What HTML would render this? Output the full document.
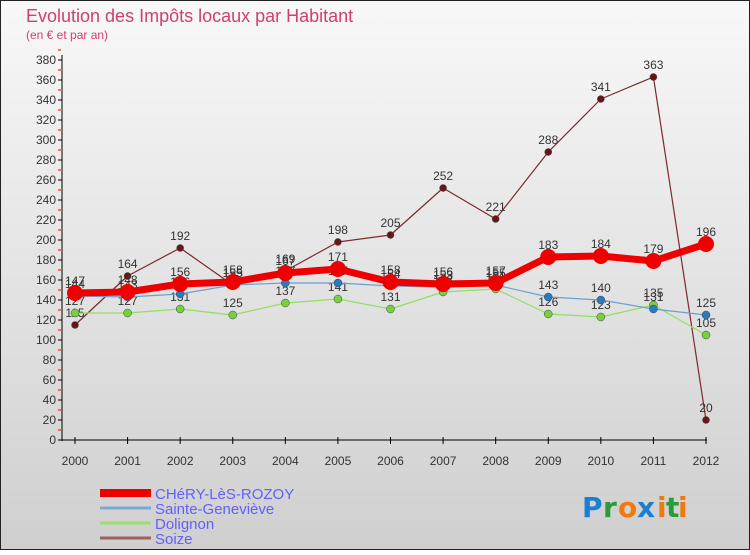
<!DOCTYPE html>
<html><head><meta charset="utf-8"><style>
body{margin:0;width:750px;height:550px;overflow:hidden;font-family:"Liberation Sans",sans-serif}
</style></head><body>
<svg width="750" height="550" xmlns="http://www.w3.org/2000/svg">
<defs><linearGradient id="bg" x1="0" y1="0" x2="0" y2="1"><stop offset="0" stop-color="#f8f8f8"/><stop offset="1" stop-color="#cfcfcf"/></linearGradient></defs>
<rect x="0.5" y="0.5" width="749" height="549" fill="url(#bg)" stroke="#222"/>
<text x="26" y="22" font-size="18" fill="#d0406a">Evolution des Impôts locaux par Habitant</text>
<text x="26" y="39" font-size="12" fill="#d0406a">(en € et par an)</text>
<g id="axes"></g>
<g id="series"></g>
<g id="legend"></g>
<g font-size="28" font-family="'DejaVu Sans',sans-serif" font-weight="bold">
<text x="582" y="517" fill="#1a7fd0">P</text><text x="603" y="517" fill="#2a9a3a">r</text><text x="618" y="517" fill="#f07a10">o</text><text x="637" y="517" fill="#1a7fd0">x</text><text x="657" y="517" fill="#f07a10">i</text><text x="666" y="517" fill="#2a9a3a">t</text><text x="678" y="517" fill="#f07a10">i</text>
</g>
</svg>
<script>
const years=[2000,2001,2002,2003,2004,2005,2006,2007,2008,2009,2010,2011,2012];
const chery=[147,148,156,158,167,171,158,156,157,183,184,179,196];
const sainte=[144,143,146,155,157,157,154,153,155,143,140,131,125];
const dolignon=[127,127,131,125,137,141,131,148,151,126,123,135,105];
const soize=[115,164,192,155,169,198,205,252,221,288,341,363,20];
const yTicks=[0,20,40,60,80,100,120,140,160,180,200,220,240,260,280,300,320,340,360,380];
const names=["CHéRY-LèS-ROZOY","Sainte-Geneviève","Dolignon","Soize"];
const NS="http://www.w3.org/2000/svg";
const x=i=>75+i*(706-75)/(years.length-1);
const y=v=>440-v*(380/380);
function mk(t,a,p){const e=document.createElementNS(NS,t);for(const k in a)e.setAttribute(k,a[k]);p.appendChild(e);return e;}
const ax=document.getElementById('axes');
mk('line',{x1:62,y1:55,x2:62,y2:441,stroke:'#000'},ax);
mk('line',{x1:62,y1:440,x2:707,y2:440,stroke:'#000'},ax);
yTicks.forEach(v=>{
 mk('line',{x1:58,y1:y(v),x2:62,y2:y(v),stroke:'#000'},ax);
 mk('line',{x1:58,y1:y(v+10),x2:61,y2:y(v+10),stroke:'#e00'},ax);
 const t=mk('text',{x:56,y:y(v)+4,'text-anchor':'end','font-size':12,fill:'#333'},ax);t.textContent=v;
 
 
});
years.forEach((yr,i)=>{
 mk('line',{x1:x(i),y1:437,x2:x(i),y2:444,stroke:'#000'},ax);
 const t=mk('text',{x:x(i),y:465,'text-anchor':'middle','font-size':12,fill:'#333'},ax);t.textContent=yr;
 
 
});
const sg=document.getElementById('series');
const defs=[[soize,'#7a2a2a','#6a1515',1.2,3.5,'soize'],[dolignon,'#90e060','#78d040',1.2,4,'dolignon'],[sainte,'#6aa0d0','#2a7ac0',1.2,4,'sainte-genevieve'],[chery,'#ee0000','#ee0000',7,8,'chery-les-rozoy']];
defs.forEach(([d,lc,pc,w,r,n])=>{
 const g=mk('g',{},sg);
 
 
 mk('polyline',{points:d.map((v,i)=>x(i)+','+y(v)).join(' '),fill:'none',stroke:lc,'stroke-width':w,'stroke-linejoin':'round'},g);
 d.forEach((v,i)=>{
  const c=mk('circle',{cx:x(i),cy:y(v),r:r,fill:pc,stroke:n==='chery-les-rozoy'?'none':'#444','stroke-width':0.5},g);
  
  
  const t=mk('text',{x:x(i),y:y(v)-8,'text-anchor':'middle','font-size':12,fill:'#333'},g);t.textContent=v;
  
  
 });
});
const lg=document.getElementById('legend');
const lcols=['#ee0000','#7aaad0','#98e070','#a06060'];const lw=[8,3,3,3];
names.forEach((nm,i)=>{
 const yy=493+i*15;
 const g=mk('g',{},lg);
 
 
 mk('line',{x1:100,y1:yy,x2:151,y2:yy,stroke:lcols[i],'stroke-width':lw[i]},g);
 const t=mk('text',{x:155,y:yy+6,'font-size':15,fill:'#6060ff'},g);t.textContent=nm;
});
</script>
</body></html>
